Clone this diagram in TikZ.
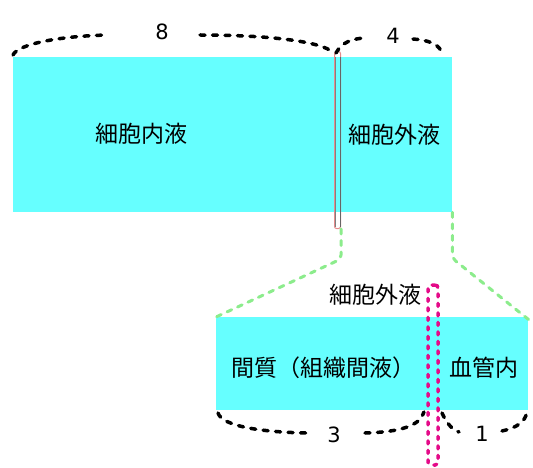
\documentclass[tikz,border=0pt]{standalone}
\usepackage{fontspec}
\setmainfont{Noto Sans CJK JP}
\newfontfamily\digitfont{DejaVu Sans}
\usetikzlibrary{positioning, calc}

\definecolor{fluidcyan}{RGB}{102,255,255}
\definecolor{zoomgreen}{RGB}{140,236,140}
\definecolor{wallpink}{RGB}{228,10,136}
\definecolor{membranered}{RGB}{230,140,140}

\begin{document}
\begin{tikzpicture}[
    x=1pt, y=-1pt,
    fluid/.style={rectangle, fill=fluidcyan, inner sep=0pt, anchor=north west},
    txt/.style={inner sep=0pt, font=\fontsize{23}{23}\selectfont},
    numtxt/.style={inner sep=0pt, font=\digitfont\fontsize{21}{21}\selectfont},
    brace/.style={line width=3.5pt, dash pattern=on 5pt off 7.5pt, line cap=round},
    zoomline/.style={draw=zoomgreen, line width=3pt, dash pattern=on 5pt off 6.5pt, line cap=round, rounded corners=4pt},
]
    \useasboundingbox (0,0) rectangle (533,468);

    % Body water (top)
    \node (body_box) [fluid, minimum width=439pt, minimum height=155pt] at (13,57) {};
    \node (membrane) [rectangle, draw=membranered, line width=1pt, rounded corners=2pt, inner sep=0pt,
        minimum width=6pt, minimum height=177pt, anchor=north west] at (334,51) {};
    \draw [gray, line width=1pt] ($(membrane.north west)+(1.5,6)$) -- ($(membrane.south west)+(1.5,-2)$);
    \draw [gray!80!black, line width=1pt] ($(membrane.north east)+(-1,6)$) -- ($(membrane.south east)+(-1,-2)$);

    \node (icf) [txt] at (141,134) {細胞内液};
    \node (ecf) [txt] at (394,135) {細胞外液};

    % Extracellular fluid (bottom)
    \node (ecf_box) [fluid, minimum width=312pt, minimum height=93pt] at (216,317) {};
    \node (ecf_title) [txt] at (375,295) {細胞外液};
    \node (interstitial) [txt] at (323,368) {間質（組織間液）};
    \node (plasma) [txt] at (484,368) {血管内};
    \node (vessel_wall) [rectangle, draw=wallpink, line width=3.5pt, dash pattern=on 3pt off 6.5pt, line cap=round,
        rounded corners=3pt, minimum width=10pt, minimum height=180pt] at (433,375) {};

    % zoom lines
    \draw [zoomline] (membrane.south east) -- ++(0,30) -- (ecf_box.north west);
    \draw [zoomline] (body_box.south east) -- ++(0,46) -- ($(ecf_box.north east)+(2,4)$);

    % ratios
    \node (n8) [numtxt] at (162,32) {8};
    \node (n4) [numtxt] at (393,36) {4};
    \node (n3) [numtxt] at (334,435) {3};
    \node (n1) [numtxt] at (482,434) {1};

    \draw [brace] (13,55) .. controls (18,44) and (60,36) .. (108,35);
    \draw [brace] (200,35) .. controls (260,35) and (320,40) .. (334,53);
    \draw [brace] (336,53) .. controls (342,42) and (352,39) .. (364,38);
    \draw [brace] (413,39) .. controls (428,40) and (438,44) .. (441,51);

    \draw [brace] (218,413) .. controls (222,426) and (260,432) .. (306,433);
    \draw [brace] (365,433) .. controls (400,432) and (420,426) .. (424,412);
    \draw [brace] (442,413) .. controls (446,422) and (452,430) .. (459,432);
    \draw [brace] (502,431) .. controls (516,428) and (526,422) .. (527,411);

\end{tikzpicture}
\end{document}
